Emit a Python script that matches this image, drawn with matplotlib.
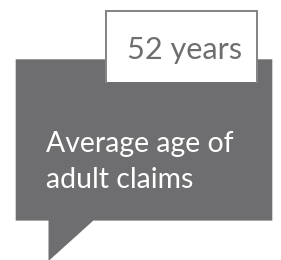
import matplotlib
matplotlib.use("Agg")
import matplotlib.pyplot as plt
from matplotlib.patches import Polygon, Rectangle
from matplotlib.lines import Line2D

# data
value = 52
unit = "years"
label_lines = ["Average age of", "adult claims"]

W, H = 281, 260
fig = plt.figure(figsize=(W / 100, H / 100), dpi=100)
ax = fig.add_axes([0, 0, 1, 1])
ax.set_xlim(0, W)
ax.set_ylim(H, 0)
ax.axis("off")

grey = "#6e6e70"
border = "#858585"

bubble = [(15.7, 59.3), (272.3, 59.3), (272.3, 220.6), (93.3, 220.6),
          (48.5, 261), (48.5, 220.6), (15.7, 220.6)]
ax.add_patch(Polygon(bubble, closed=True, facecolor=grey, edgecolor="none"))

# white value box
ax.add_patch(Rectangle((106, 11), 151.3, 70.7, facecolor="white", edgecolor="none"))
ax.add_line(Line2D([106, 106, 257.3, 257.3], [81.7, 11, 11, 81.7],
                   color=border, linewidth=1.45, solid_joinstyle="miter"))

font = "Lato"
ax.text(127, 59.3, f"{value} {unit}", ha="left", va="baseline",
        fontsize=22.1, color="#6e6e6e", family=font)
baselines = [152.3, 188.3]
for line, yb in zip(label_lines, baselines):
    ax.text(45.7, yb, line, ha="left", va="baseline", fontsize=20.4,
            color="white", family=font)

fig.savefig("out.png", dpi=100)
